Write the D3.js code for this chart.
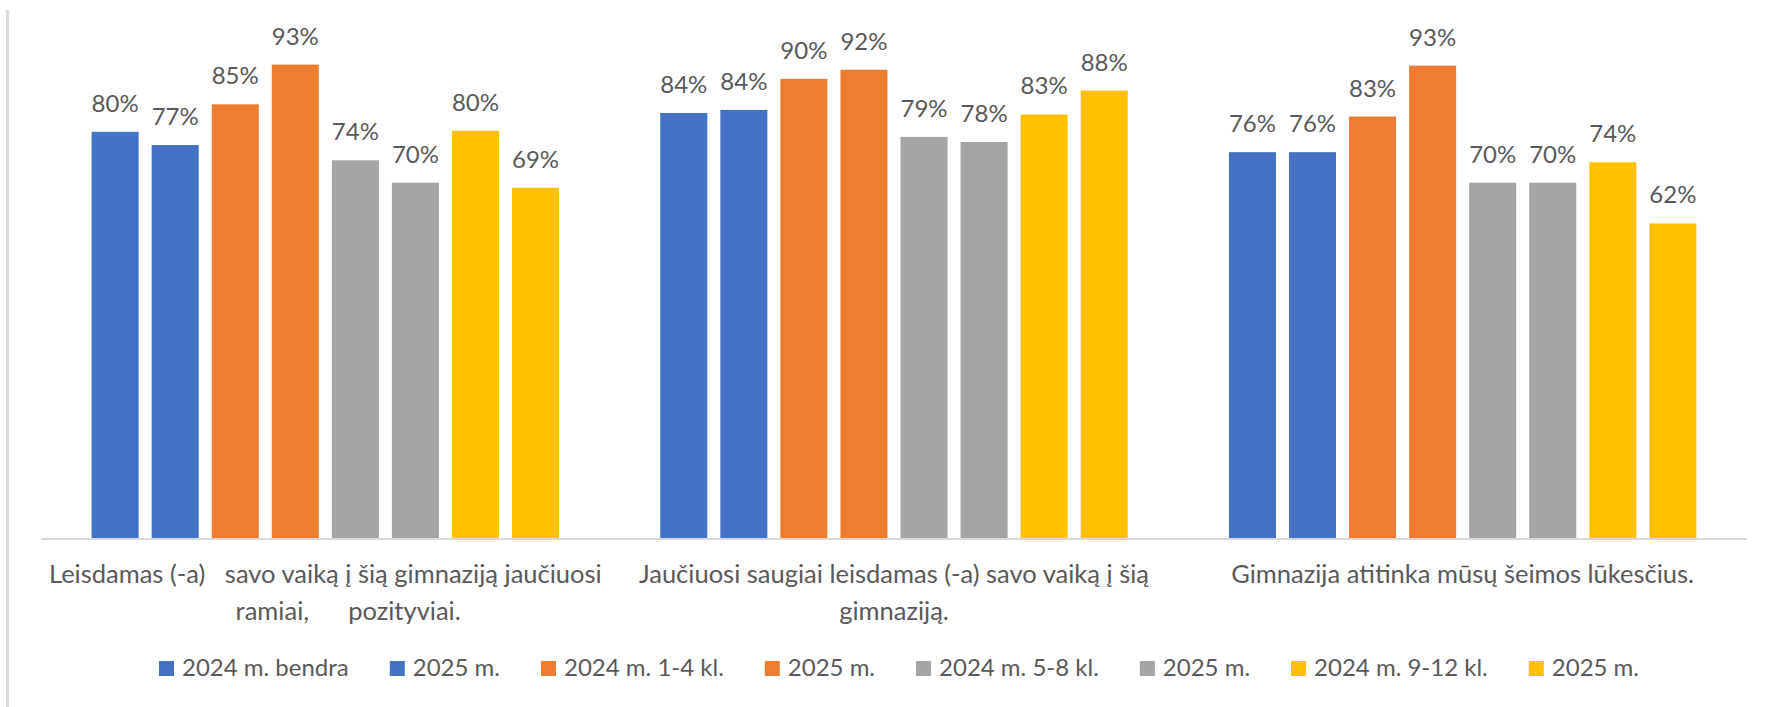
<!DOCTYPE html>
<html lang="lt">
<head>
<meta charset="utf-8">
<title>Tėvų apklausa</title>
<script src="https://d3js.org/d3.v7.min.js"></script>
<style>
  body { margin: 0; background: #fff; }
  svg { display: block; font-family: Lato, "Noto Sans", sans-serif; }
  .lbl { fill: #595959; font-size: 24px; }
  .cat { fill: #595959; font-size: 25.5px; white-space: pre; }
  .legend text { fill: #595959; font-size: 24px; white-space: pre; }
</style>
</head>
<body>
<script>
// kategorijos (x ašies tekstas, eilutėmis)
var categories = ["q1", "q2", "q3"];
var categoryLines = [
  ["Leisdamas (-a)   savo vaiką į šią gimnaziją jaučiuosi", "       ramiai,      pozityviai."],
  ["Jaučiuosi saugiai leisdamas (-a) savo vaiką į šią", "gimnaziją."],
  ["Gimnazija atitinka mūsų šeimos lūkesčius."]
];

var seriesNames = ["2024 m. bendra", "2025 m.", "2024 m. 1-4 kl.", "2025 m.",
                   "2024 m. 5-8 kl.", "2025 m.", "2024 m. 9-12 kl.", "2025 m."];
var seriesColors = ["#4472C4", "#4472C4", "#ED7D31", "#ED7D31",
                    "#A5A5A5", "#A5A5A5", "#FFC000", "#FFC000"];

// reikšmės pagal seriją, kiekvienai kategorijai
var bendra2024 = [0.80, 0.837, 0.76];
var bendra2025 = [0.774, 0.843, 0.76];
var kl14_2024  = [0.854, 0.904, 0.83];
var kl14_2025  = [0.932, 0.922, 0.93];
var kl58_2024  = [0.744, 0.79, 0.70];
var kl58_2025  = [0.70, 0.78, 0.70];
var kl912_2024 = [0.802, 0.834, 0.74];
var kl912_2025 = [0.69, 0.881, 0.62];
var seriesValues = [bendra2024, bendra2025, kl14_2024, kl14_2025,
                    kl58_2024, kl58_2025, kl912_2024, kl912_2025];

var w = 1769, h = 707;
var mLeft = 41, mRight = 1747, mTop = 30, mBottom = 539;

var svg = d3.select("body").append("svg")
  .attr("width", w)
  .attr("height", h);

svg.append("rect").attr("width", w).attr("height", h).attr("fill", "#fff");

// kairysis rėmelio kraštas
svg.append("line")
  .attr("x1", 7.5).attr("x2", 7.5)
  .attr("y1", 10).attr("y2", h)
  .attr("stroke", "#D9D9D9").attr("stroke-width", 3);

var x0 = d3.scaleBand()
  .domain(categories)
  .range([mLeft, mRight])
  .paddingInner(0.178)
  .paddingOuter(0.089);

var x1 = d3.scaleBand()
  .domain(d3.range(seriesNames.length))
  .range([0, x0.bandwidth()])
  .paddingInner(0.217);

var y = d3.scaleLinear()
  .domain([0, 1])
  .range([mBottom, mTop]);

var fmt = d3.format(".0%");

var rows = [];
categories.forEach(function(c, ci) {
  seriesValues.forEach(function(vals, si) {
    rows.push({cat: c, ci: ci, s: si, v: vals[ci]});
  });
});

var bars = svg.append("g").attr("class", "bars");

bars.selectAll("rect")
  .data(rows)
  .enter().append("rect")
  .attr("x", function(d) { return x0(d.cat) + x1(d.s); })
  .attr("y", function(d) { return y(d.v); })
  .attr("width", x1.bandwidth())
  .attr("height", function(d) { return y(0) - y(d.v); })
  .attr("fill", function(d) { return seriesColors[d.s]; });

svg.append("g").selectAll("text")
  .data(rows)
  .enter().append("text")
  .attr("class", "lbl")
  .attr("x", function(d) { return x0(d.cat) + x1(d.s) + x1.bandwidth() / 2; })
  .attr("y", function(d) { return y(d.v) - 20; })
  .attr("text-anchor", "middle")
  .text(function(d) { return fmt(d.v); });

// x ašis
svg.append("line")
  .attr("x1", mLeft).attr("x2", mRight)
  .attr("y1", y(0)).attr("y2", y(0))
  .attr("stroke", "#D9D9D9").attr("stroke-width", 2);

var cats = svg.append("g").selectAll("text")
  .data(categories)
  .enter().append("text")
  .attr("class", "cat")
  .attr("text-anchor", "middle")
  .attr("x", function(d) { return x0(d) + x0.bandwidth() / 2; })
  .attr("y", mBottom + 44);

cats.selectAll("tspan")
  .data(function(d, i) { return categoryLines[i]; })
  .enter().append("tspan")
  .attr("x", function() { return d3.select(this.parentNode).attr("x"); })
  .attr("dy", function(d, i) { return i === 0 ? 0 : 37; })
  .text(function(d) { return d; });

// legenda
var legend = svg.append("g").attr("class", "legend");
var sq = 15, textGap = 23, itemGap = 41, legY = 676;
var items = legend.selectAll("g")
  .data(seriesNames)
  .enter().append("g");

items.append("rect")
  .attr("width", sq).attr("height", sq)
  .attr("y", legY - sq)
  .attr("fill", function(d, i) { return seriesColors[i]; });

items.append("text")
  .attr("x", textGap)
  .attr("y", legY)
  .text(function(d) { return d; });

var pos = 0, offsets = [];
items.each(function() {
  offsets.push(pos);
  pos += textGap + d3.select(this).select("text").node().getComputedTextLength() + itemGap;
});
var total = pos - itemGap;
var start = (mLeft + mRight) / 2 - total / 2 + 5;
items.attr("transform", function(d, i) { return "translate(" + (start + offsets[i]) + ",0)"; });
</script>
</body>
</html>
